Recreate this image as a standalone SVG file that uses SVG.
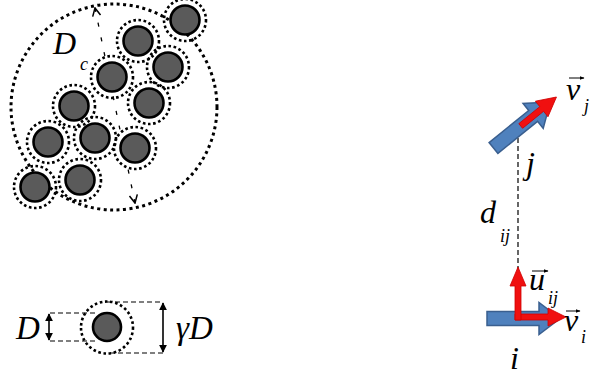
<svg xmlns="http://www.w3.org/2000/svg" width="590" height="382" viewBox="0 0 590 382">
<defs>
<style>
.big{fill:none;stroke:#000;stroke-width:3;stroke-dasharray:3 3.5}
.ring{fill:none;stroke:#000;stroke-width:2.6;stroke-dasharray:2.6 2.6}
.core{fill:#5a5a5a;stroke:#000;stroke-width:2.6}
.dash{fill:none;stroke:#000;stroke-width:1.2;stroke-dasharray:5 3}
.dc{fill:none;stroke:#000;stroke-width:1.3;stroke-dasharray:4 11}
.dim{fill:none;stroke:#000;stroke-width:1.6}
.lbl{font-family:"Liberation Serif","Times New Roman",serif;font-style:italic;fill:#000}
.blue{fill:#4f81bd;stroke:#3a5f8f;stroke-width:1.5}
.red{fill:#f01010;stroke:#d00000;stroke-width:0.8}
.vec{stroke:#000;stroke-width:1;fill:none}
</style>
<marker id="vOpen" viewBox="0 0 10 10" refX="9" refY="5" markerWidth="10" markerHeight="10" markerUnits="userSpaceOnUse" orient="auto-start-reverse">
<path d="M1,1 L9,5 L1,9" fill="none" stroke="#000" stroke-width="1.5"/>
</marker>
<marker id="vFill" viewBox="0 0 10 10" refX="9" refY="5" markerWidth="8" markerHeight="8" markerUnits="userSpaceOnUse" orient="auto-start-reverse">
<path d="M0,0 L10,5 L0,10 Z" fill="#000"/>
</marker>
<marker id="vecHead" viewBox="0 0 10 10" refX="9" refY="5" markerWidth="5" markerHeight="5" markerUnits="userSpaceOnUse" orient="auto">
<path d="M0,1 L10,5 L0,9 Z" fill="#000"/>
</marker>
</defs>
<rect width="590" height="382" fill="#fff"/>

<g id="connectors">
<line x1="95" y1="8" x2="135" y2="203" class="dc" marker-start="url(#vOpen)" marker-end="url(#vOpen)"/>
<line x1="50" y1="313" x2="97" y2="313" class="dash"/>
<line x1="50" y1="341" x2="97" y2="341" class="dash"/>
<line x1="49" y1="314" x2="49" y2="340" class="dim" marker-start="url(#vFill)" marker-end="url(#vFill)"/>
<line x1="107" y1="302" x2="163" y2="302" class="dash"/>
<line x1="110" y1="353" x2="163" y2="353" class="dash"/>
<line x1="163" y1="303" x2="163" y2="352" class="dim" marker-start="url(#vFill)" marker-end="url(#vFill)"/>
<line x1="518" y1="130" x2="518" y2="270" class="dash"/>
</g>

<g id="cluster">
<circle cx="114" cy="107" r="103" class="big"/>
<g id="p1"><circle cx="185" cy="20" r="21" class="ring"/><circle cx="185" cy="20" r="14.5" class="core"/></g>
<g id="p2"><circle cx="138" cy="41" r="21" class="ring"/><circle cx="138" cy="41" r="14.5" class="core"/></g>
<g id="p3"><circle cx="168" cy="67" r="21" class="ring"/><circle cx="168" cy="67" r="14.5" class="core"/></g>
<g id="p4"><circle cx="112" cy="77" r="21" class="ring"/><circle cx="112" cy="77" r="14.5" class="core"/></g>
<g id="p5"><circle cx="149" cy="103" r="21" class="ring"/><circle cx="149" cy="103" r="14.5" class="core"/></g>
<g id="p6"><circle cx="74" cy="106" r="21" class="ring"/><circle cx="74" cy="106" r="14.5" class="core"/></g>
<g id="p7"><circle cx="95" cy="138" r="21" class="ring"/><circle cx="95" cy="138" r="14.5" class="core"/></g>
<g id="p8"><circle cx="135" cy="148" r="21" class="ring"/><circle cx="135" cy="148" r="14.5" class="core"/></g>
<g id="p9"><circle cx="48" cy="142" r="21" class="ring"/><circle cx="48" cy="142" r="14.5" class="core"/></g>
<g id="p10"><circle cx="80" cy="180" r="21" class="ring"/><circle cx="80" cy="180" r="14.5" class="core"/></g>
<g id="p11"><circle cx="35" cy="187" r="21" class="ring"/><circle cx="35" cy="187" r="14.5" class="core"/></g>
<g id="label-Dc"><text x="53" y="54" class="lbl" font-size="32">D</text><text x="80" y="70" class="lbl" font-size="18">c</text></g>
</g>

<g id="single">
<circle cx="107" cy="327.5" r="26" class="ring"/>
<circle cx="107" cy="327" r="14" class="core"/>
<text x="16" y="339" class="lbl" font-size="33">D</text>
<text x="176" y="339" class="lbl" font-size="33">γD</text>
</g>

<g id="agent-j">
<g transform="translate(493.5,148) rotate(-39)">
<path d="M0,-7 L51,-7 L51,-16 L73,0 L51,16 L51,7 L0,7 Z" class="blue"/>
<path d="M35,-3 L62,-3 L62,-10 L81,0 L62,10 L62,3 L35,3 Z" class="red"/>
</g>
<text x="566" y="100" class="lbl" font-size="32">v</text>
<line x1="569" y1="78" x2="584" y2="78" class="vec" marker-end="url(#vecHead)"/>
<text x="584" y="112" class="lbl" font-size="18">j</text>
<text x="526" y="174" class="lbl" font-size="32">j</text>
</g>

<g id="label-dij">
<text x="480" y="223" class="lbl" font-size="32">d</text>
<text x="500" y="242" class="lbl" font-size="18">ij</text>
</g>

<g id="agent-i">
<path d="M0,-7 L52,-7 L52,-16 L73,0 L52,16 L52,7 L0,7 Z" class="blue" transform="translate(487,318.5)"/>
<polygon points="515,314 548,314 548,308 566,317 548,326 548,320 515,320" class="red"/>
<polygon points="515,320 515,286 510,286 518,267 526,286 521,286 521,320" class="red"/>
<text x="529" y="290" class="lbl" font-size="32">u</text>
<line x1="532" y1="271" x2="548" y2="271" class="vec" marker-end="url(#vecHead)"/>
<text x="548" y="304" class="lbl" font-size="18">ij</text>
<text x="564" y="331" class="lbl" font-size="32">v</text>
<line x1="566" y1="311" x2="580" y2="311" class="vec" marker-end="url(#vecHead)"/>
<text x="581" y="343" class="lbl" font-size="18">i</text>
<text x="510" y="369" class="lbl" font-size="32">i</text>
</g>
</svg>
